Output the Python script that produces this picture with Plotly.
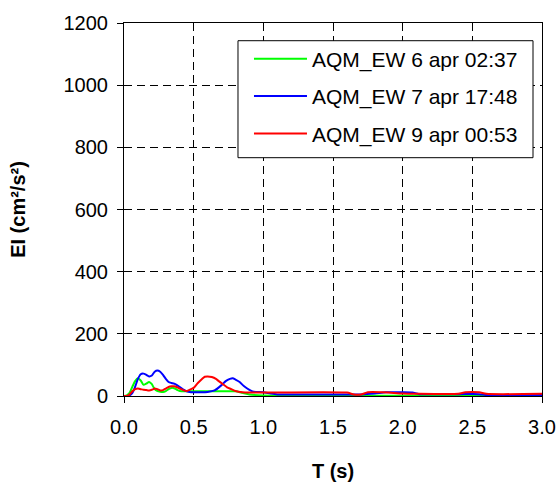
import plotly.graph_objects as go

# ---- data ----
t_green = [0.0, 0.02, 0.04, 0.06, 0.08, 0.10, 0.12, 0.14, 0.16, 0.18, 0.20, 0.22, 0.24, 0.26, 0.28,
           0.30, 0.32, 0.34, 0.36, 0.38, 0.40, 0.45, 0.50, 0.60, 0.70, 0.80, 0.85, 0.90, 1.00,
           1.50, 2.00, 2.50, 3.00]
ei_green = [0, 2, 10, 30, 48, 57, 50, 36, 40, 45, 38, 22, 16, 14, 13,
            16, 22, 26, 25, 20, 16, 15, 15, 15, 15, 15, 10, 5, 2,
            1, 1, 1, 1]

t_blue = [0.0, 0.02, 0.04, 0.06, 0.08, 0.10, 0.12, 0.14, 0.16, 0.18, 0.20, 0.22, 0.24, 0.26, 0.28,
          0.30, 0.32, 0.34, 0.36, 0.38, 0.40, 0.42, 0.44, 0.47, 0.50, 0.55, 0.60, 0.65, 0.70,
          0.73, 0.76, 0.78, 0.80, 0.83, 0.86, 0.90, 0.93, 1.00, 1.05, 1.10, 1.50, 1.70, 1.80,
          1.88, 2.00, 2.07, 2.12, 2.40, 2.55, 2.60, 3.00]
ei_blue = [0, 0, 2, 10, 30, 55, 70, 72, 68, 63, 66, 78, 82, 78, 68,
           55, 45, 42, 40, 35, 29, 22, 17, 13, 12, 12, 13, 18, 35,
           48, 55, 57, 53, 45, 32, 20, 14, 12, 8, 5, 5, 5, 8,
           12, 12, 11, 6, 6, 6, 3, 3]

t_red = [0.0, 0.02, 0.04, 0.06, 0.08, 0.10, 0.12, 0.14, 0.16, 0.18, 0.20, 0.22, 0.24, 0.26, 0.28,
         0.30, 0.32, 0.34, 0.36, 0.38, 0.40, 0.43, 0.45, 0.48, 0.50, 0.53, 0.56, 0.58, 0.60,
         0.63, 0.66, 0.68, 0.71, 0.74, 0.77, 0.80, 0.85, 0.90, 1.00, 1.60, 1.65, 1.70, 1.75,
         1.85, 1.90, 2.00, 2.10, 2.40, 2.45, 2.55, 2.60, 3.00]
ei_red = [0, 0, 5, 15, 22, 24, 22, 20, 19, 18, 20, 24, 22, 18, 19,
          24, 29, 31, 31, 28, 24, 18, 16, 22, 26, 42, 55, 62, 63,
          61, 55, 48, 38, 28, 22, 16, 12, 11, 11, 11, 5, 5, 12,
          12, 11, 8, 7, 7, 12, 12, 7, 7]

series_names = ["AQM_EW 6 apr 02:37", "AQM_EW 7 apr 17:48", "AQM_EW 9 apr 00:53"]
series_colors = ["#00FF00", "#0000FF", "#FF0000"]

x_ticks = [0.0, 0.5, 1.0, 1.5, 2.0, 2.5, 3.0]
y_ticks = [0, 200, 400, 600, 800, 1000, 1200]

FONT = "Liberation Sans, Arial, sans-serif"

fig = go.Figure()
for i, (tx, ty) in enumerate([(t_green, ei_green), (t_blue, ei_blue), (t_red, ei_red)]):
    fig.add_trace(go.Scatter(
        x=tx, y=ty, mode="lines", name=series_names[i],
        line=dict(color=series_colors[i], width=2, shape="spline", smoothing=0.6),
        legendgroup=f"g{i}",
    ))

axis_common = dict(
    showline=True, linecolor="black", linewidth=1, mirror=True,
    ticks="outside", ticklen=6, tickcolor="black", tickwidth=1,
    showgrid=True, gridcolor="black", gridwidth=1, griddash="8px,5px",
    zeroline=False, automargin=False,
    tickfont=dict(family=FONT, size=20, color="black"),
)

fig.update_xaxes(range=[0, 3], tickvals=x_ticks, ticktext=[f"{v:.1f}" for v in x_ticks],
                 ticklabelstandoff=7,
                 title=dict(text="<b>T (s)</b>", font=dict(family=FONT, size=20, color="black"), standoff=26),
                 **axis_common)
fig.update_yaxes(range=[0, 1200], tickvals=y_ticks, ticktext=[str(v) for v in y_ticks],
                 ticklabelstandoff=5,
                 title=dict(text="<b>EI (cm²/s²)</b>", font=dict(family=FONT, size=20, color="black"), standoff=32),
                 **axis_common)

# legend frame (the legend itself is drawn inside it)
fig.add_shape(type="rect", xref="paper", yref="paper",
              x0=0.2727, x1=0.9785, y0=0.6389, y1=0.9525,
              fillcolor="white", line=dict(color="black", width=1), layer="above")

fig.update_layout(
    width=559, height=486,
    margin=dict(l=124, r=17, t=23, b=90),
    plot_bgcolor="white", paper_bgcolor="white",
    font=dict(family=FONT, color="black"),
    legend=dict(
        x=0.299, y=0.958, xanchor="left", yanchor="top",
        bgcolor="rgba(0,0,0,0)", borderwidth=0,
        font=dict(family=FONT, size=21, color="black"),
        tracegroupgap=7, itemwidth=53,
    ),
    showlegend=True,
)

fig.write_html(
    "out.html",
    config={"displayModeBar": False},
    post_script="document.body.style.margin='0';document.body.style.overflow='hidden';",
)
